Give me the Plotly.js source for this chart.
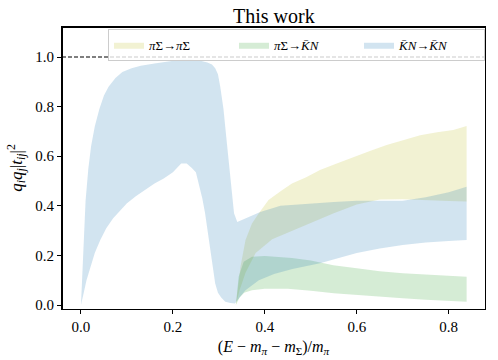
<!DOCTYPE html>
<html>
<head>
<meta charset="utf-8">
<script src="https://cdn.plot.ly/plotly-3.0.1.min.js"></script>
<style>
  html, body { margin: 0; padding: 0; background: white; }
  #wrap { position: relative; width: 498px; height: 360px; }
  #chart { width: 498px; height: 360px; }
  #frame { position: absolute; box-sizing: border-box; border: 1px solid black; pointer-events: none; }
</style>
</head>
<body>
<div id="wrap">
	<div id="chart"></div>
	<div id="frame"></div>
</div>
<script>
	"use strict";

	// pi Sigma -> pi Sigma band
	var piSigmaX_up = [0.337, 0.347, 0.358, 0.372, 0.387, 0.408, 0.435, 0.459, 0.49, 0.52, 0.555, 0.593, 0.63, 0.665, 0.70, 0.738, 0.775, 0.81, 0.839];
	var piSigmaY_up = [0.0, 0.154, 0.262, 0.329, 0.37, 0.423, 0.46, 0.49, 0.515, 0.544, 0.57, 0.598, 0.622, 0.645, 0.665, 0.685, 0.697, 0.706, 0.722];
	var piSigmaX_lo = [0.337, 0.345, 0.358, 0.38, 0.416, 0.46, 0.5, 0.55, 0.6, 0.65, 0.7, 0.75, 0.8, 0.839];
	var piSigmaY_lo = [0.0, 0.06, 0.13, 0.21, 0.265, 0.30, 0.33, 0.37, 0.405, 0.425, 0.426, 0.422, 0.419, 0.417];

	// pi Sigma -> Kbar N band
	var piKX_up = [0.337, 0.343, 0.354, 0.372, 0.40, 0.459, 0.5, 0.549, 0.6, 0.65, 0.7, 0.75, 0.8, 0.839];
	var piKY_up = [0.0, 0.114, 0.175, 0.195, 0.198, 0.19, 0.18, 0.16, 0.148, 0.136, 0.128, 0.122, 0.117, 0.114];
	var piKX_lo = [0.337, 0.345, 0.355, 0.372, 0.4, 0.45, 0.5, 0.55, 0.6, 0.65, 0.7, 0.75, 0.8, 0.839];
	var piKY_lo = [0.0, 0.03, 0.05, 0.06, 0.066, 0.066, 0.058, 0.048, 0.04, 0.033, 0.027, 0.021, 0.016, 0.013];

	// Kbar N -> Kbar N band
	var kkX_up = [0.0, 0.005, 0.01, 0.016, 0.022, 0.03, 0.04, 0.05, 0.06, 0.075, 0.09, 0.11, 0.13, 0.16, 0.19, 0.22, 0.24, 0.26, 0.275, 0.285, 0.292, 0.298, 0.303, 0.31, 0.317, 0.325, 0.333, 0.34,
		0.36, 0.39, 0.434, 0.5, 0.55, 0.6, 0.65, 0.7, 0.75, 0.8, 0.839];
	var kkY_up = [0.0, 0.25, 0.42, 0.55, 0.64, 0.72, 0.79, 0.845, 0.88, 0.915, 0.94, 0.955, 0.965, 0.974, 0.983, 0.99, 0.99, 0.985, 0.978, 0.97, 0.955, 0.93, 0.88, 0.79, 0.66, 0.50, 0.37, 0.335,
		0.35, 0.375, 0.40, 0.41, 0.415, 0.42, 0.42, 0.42, 0.435, 0.455, 0.477];
	var kkX_lo = [0.0, 0.006, 0.012, 0.02, 0.03, 0.042, 0.055, 0.07, 0.085, 0.1, 0.12, 0.14, 0.16, 0.18, 0.2, 0.21, 0.218, 0.23, 0.24, 0.25, 0.258, 0.264, 0.27, 0.276, 0.281, 0.287, 0.292, 0.298, 0.305, 0.314, 0.325, 0.335,
		0.345, 0.358, 0.387, 0.42, 0.46, 0.52, 0.55, 0.6, 0.65, 0.7, 0.75, 0.8, 0.839];
	var kkY_lo = [0.0, 0.05, 0.1, 0.15, 0.21, 0.262, 0.31, 0.35, 0.38, 0.41, 0.44, 0.465, 0.49, 0.51, 0.535, 0.555, 0.571, 0.571, 0.555, 0.535, 0.48, 0.43, 0.37, 0.30, 0.235, 0.15, 0.087, 0.05, 0.03, 0.013, 0.008, 0.006,
		0.03, 0.06, 0.10, 0.125, 0.145, 0.168, 0.185, 0.21, 0.228, 0.242, 0.252, 0.258, 0.262];

	var xTicks = [0.0, 0.2, 0.4, 0.6, 0.8];
	var yTicks = [0.0, 0.2, 0.4, 0.6, 0.8, 1.0];
	var unitarityLimit = 1.0;

	var serif = '"Liberation Serif", "DejaVu Serif", serif';

	// closed polygon: upper edge forward, lower edge back
	function band(xu, yu, xl, yl, color, name) {
		return {
			type: 'scatter',
			mode: 'lines',
			x: xu.concat(xl.slice().reverse()),
			y: yu.concat(yl.slice().reverse()),
			fill: 'toself',
			fillcolor: color,
			line: { width: 0, color: color },
			name: name,
			hoverinfo: 'skip'
		};
	}

	var data = [
		band(piSigmaX_up, piSigmaY_up, piSigmaX_lo, piSigmaY_lo, 'rgba(188,189,34,0.2)', '<i>π</i>Σ→<i>π</i>Σ'),
		band(piKX_up, piKY_up, piKX_lo, piKY_lo, 'rgba(44,160,44,0.2)', '<i>π</i>Σ→<i>K̄N</i>'),
		band(kkX_up, kkY_up, kkX_lo, kkY_lo, 'rgba(31,119,180,0.2)', '<i>K̄N</i>→<i>K̄N</i>')
	];

	var axisStyle = {
		ticks: 'outside',
		ticklen: 4,
		tickwidth: 1.2,
		tickcolor: 'black',
		tickformat: '.1f',
		showgrid: false,
		zeroline: false,
		showline: true,
		linecolor: 'black',
		linewidth: 1.2,
		mirror: true,
		tickfont: { family: serif, size: 15, color: 'black' }
	};

	var layout = {
		width: 498,
		height: 360,
		margin: { l: 62, r: 13, t: 27, b: 51 },
		paper_bgcolor: 'white',
		plot_bgcolor: 'white',
		font: { family: serif, color: 'black', size: 15 },
		title: {
			text: 'This work',
			font: { family: serif, size: 20, color: 'black' },
			x: 0.55, xanchor: 'center',
			y: 0.975, yanchor: 'top'
		},
		showlegend: true,
		legend: {
			orientation: 'h',
			x: 1.0, xanchor: 'right',
			y: 0.994, yanchor: 'top',
			bgcolor: 'rgba(255,255,255,0.8)',
			bordercolor: '#cccccc',
			borderwidth: 1,
			font: { family: serif, size: 13, color: 'black' },
			entrywidth: 80,
			entrywidthmode: 'pixels',
			traceorder: 'normal'
		},
		xaxis: Object.assign({}, axisStyle, {
			range: [-0.0413, 0.879],
			tickvals: xTicks,
			title: {
				text: '(<i>E</i> − <i>m</i><sub><i>π</i></sub> − <i>m</i><sub>Σ</sub>)/<i>m</i><sub><i>π</i></sub>',
				font: { family: serif, size: 16, color: 'black' },
				standoff: 6
			}
		}),
		yaxis: Object.assign({}, axisStyle, {
			range: [-0.016, 1.121],
			tickvals: yTicks,
			title: {
				text: '<i>q<sub>i</sub>q<sub>j</sub></i>|<i>t<sub>ij</sub></i>|<sup>2</sup>',
				font: { family: serif, size: 17, color: 'black' },
				standoff: 8
			}
		}),
		shapes: [{
			type: 'line',
			xref: 'paper', x0: 0, x1: 1,
			yref: 'y', y0: unitarityLimit, y1: unitarityLimit,
			line: { color: 'black', width: 1.2, dash: '4px,2px' },
			layer: 'above'
		}]
	};

	Plotly.newPlot('chart', data, layout, { displayModeBar: false }).then(function (gd) {
		// frame box placed on the plot area Plotly computed
		var s = gd._fullLayout._size;
		var f = document.getElementById('frame');
		f.style.left = s.l + 'px';
		f.style.top = s.t + 'px';
		f.style.width = (s.w + 1) + 'px';
		f.style.height = (s.h + 1) + 'px';
	});
</script>
</body>
</html>
